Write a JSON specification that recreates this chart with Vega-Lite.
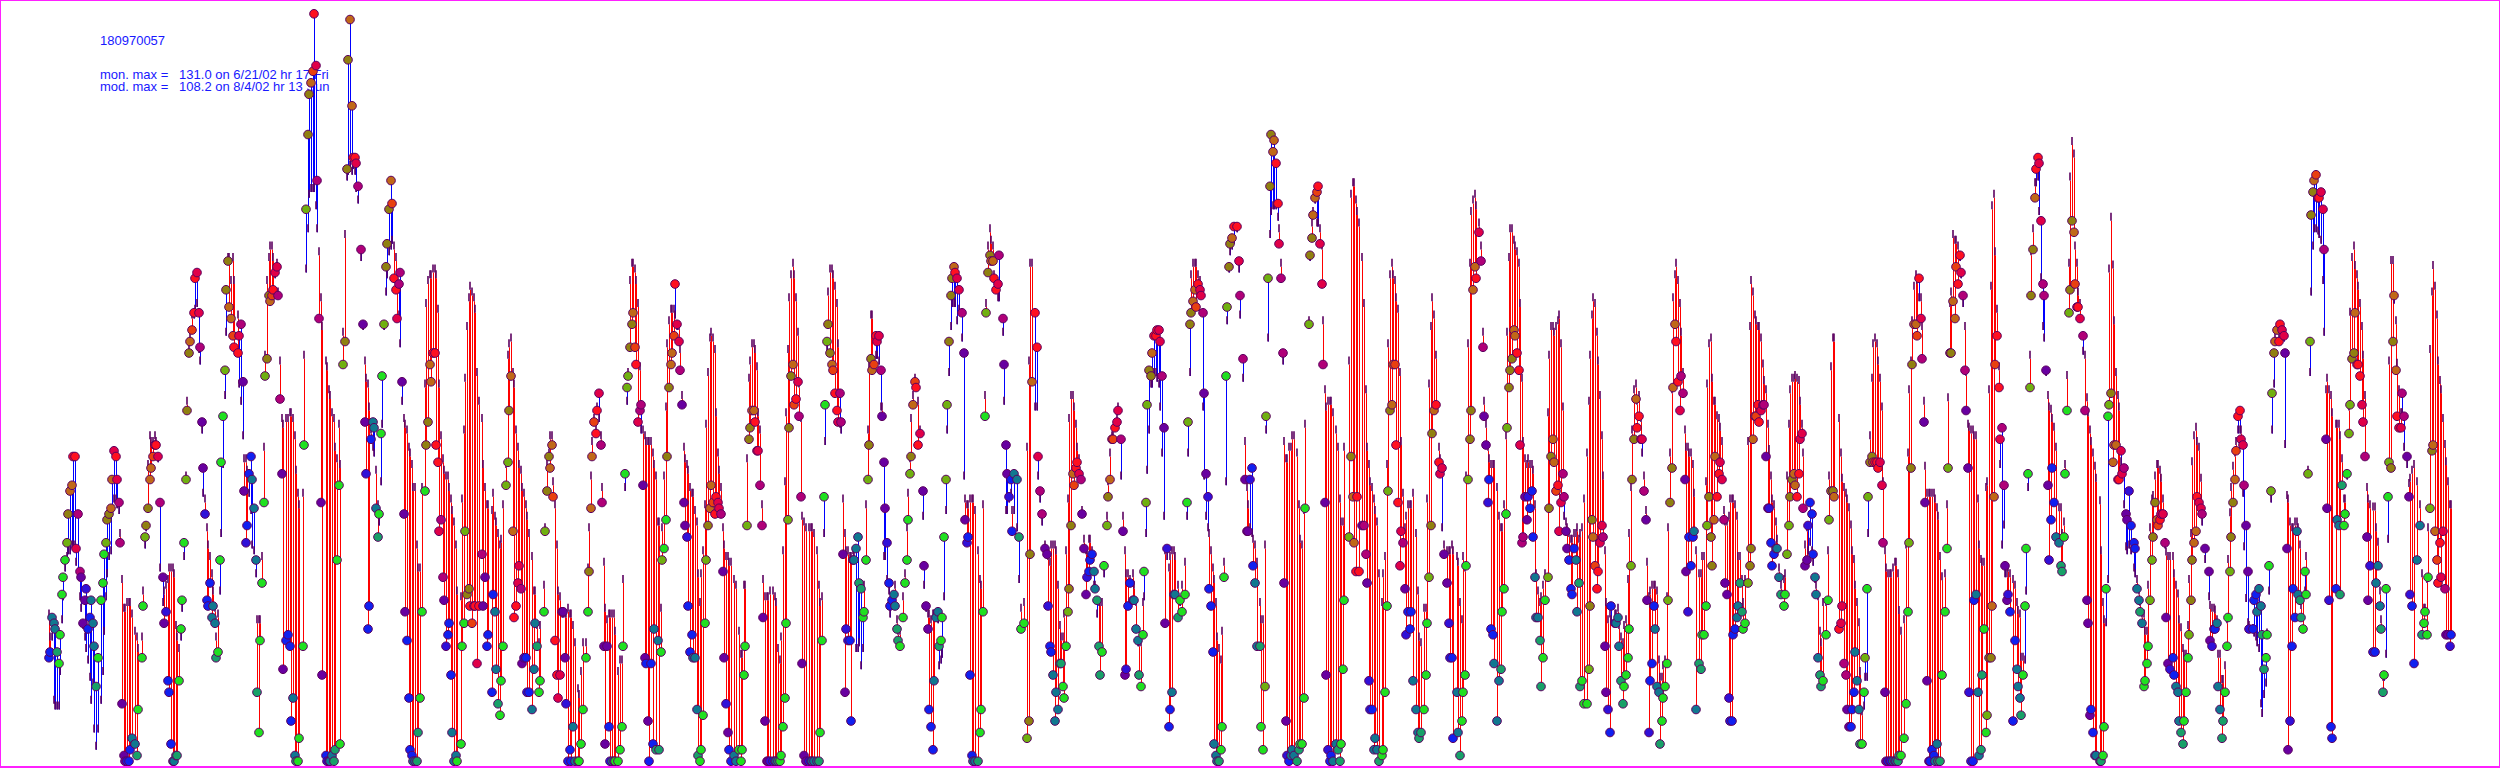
{"$schema":"https://vega.github.io/schema/vega-lite/v6.json","autosize":{"type":"fit","contains":"padding"},"padding":0,"width":2500,"height":768,"background":"white","view":{"stroke":"#ff20ff","strokeWidth":2,"fill":"white"},
"datasets":{"notes":[{"h":61.4,"v":126.3,"t":"180970057"},{"h":61.4,"v":120.3,"t":"mon. max =\u00a0\u00a0\u00a0131.0 on 6/21/02 hr 17 Fri"},{"h":61.4,"v":118.2,"t":"mod. max =\u00a0\u00a0\u00a0108.2 on 8/4/02 hr 13 Sun"}],
"hours":[
{"h":30,"o":19,"m":26,"c":"b"},{"h":31,"o":20,"m":22,"c":"b"},{"h":32,"o":26,"m":22,"c":"t"},{"h":33,"o":25,"m":11,"c":"t"},{"h":34,"o":24,"m":10,"c":"t"},{"h":35,"o":20,"m":10,"c":"e"},{"h":36,"o":18,"m":10,"c":"g"},{"h":37,"o":23,"m":16,"c":"g"},{"h":38,"o":30,"m":25,"c":"g"},{"h":39,"o":33,"m":29,"c":"g"},{"h":40,"o":36,"m":34,"c":"g"},{"h":41,"o":39,"m":36,"c":"l"},{"h":42,"o":44,"m":37,"c":"y"},{"h":43,"o":48,"m":37,"c":"o"},{"h":44,"o":49,"m":38,"c":"o"},{"h":45,"o":54,"m":38,"c":"r"},{"h":46,"o":54,"m":38,"c":"r"},{"h":47,"o":38,"m":35,"c":"c"},{"h":48,"o":44,"m":33,"c":"m"},{"h":49,"o":34,"m":29,"c":"m"},{"h":50,"o":33,"m":27,"c":"p"},{"h":51,"o":25,"m":24,"c":"p"},{"h":52,"o":29,"m":22,"c":"p"},{"h":53,"o":31,"m":20,"c":"v"},{"h":54,"o":24,"m":18,"c":"b"},{"h":55,"o":26,"m":15,"c":"b"},{"h":56,"o":29,"m":11,"c":"t"},{"h":57,"o":25,"m":14,"c":"t"},{"h":58,"o":21,"m":6,"c":"t"},{"h":59,"o":14,"m":3,"c":"e"},{"h":60,"o":19,"m":6,"c":"g"},{"h":62,"o":29,"m":11,"c":"g"},{"h":63,"o":32,"m":16,"c":"g"},{"h":64,"o":37,"m":23,"c":"g"},{"h":65,"o":39,"m":29,"c":"l"},{"h":66,"o":43,"m":33,"c":"y"},{"h":67,"o":44,"m":36,"c":"y"},{"h":68,"o":45,"m":37,"c":"o"},{"h":69,"o":50,"m":44,"c":"o"},{"h":70,"o":55,"m":46,"c":"c"},{"h":71,"o":54,"m":46,"c":"r"},{"h":72,"o":50,"m":45,"c":"c"},{"h":73,"o":46,"m":44,"c":"m"},{"h":74,"o":39,"m":40,"c":"m"},
{"h":75,"o":11,"m":32,"c":"p"},{"h":76,"o":2,"m":27,"c":"p"},{"h":77,"o":1,"m":27,"c":"p"},{"h":78,"o":1,"m":28,"c":"b"},{"h":79,"o":1,"m":28,"c":"b"},{"h":80,"o":3,"m":28,"c":"b"},{"h":81,"o":5,"m":26,"c":"t"},{"h":83,"o":4,"m":23,"c":"t"},{"h":84,"o":2,"m":22,"c":"e"},{"h":85,"o":10,"m":20,"c":"g"},{"h":87,"o":19,"m":22,"c":"g"},{"h":88,"o":28,"m":30,"c":"g"},{"h":89,"o":40,"m":38,"c":"l"},{"h":90,"o":42,"m":41,"c":"y"},{"h":91,"o":45,"m":52,"c":"y"},{"h":92,"o":50,"m":57,"c":"o"},{"h":93,"o":52,"m":56,"c":"o"},{"h":94,"o":54,"m":56,"c":"a"},{"h":95,"o":56,"m":57,"c":"r"},{"h":96,"o":56,"m":56,"c":"r"},{"h":97,"o":54,"m":53,"c":"c"},{"h":98,"o":46,"m":34,"c":"m"},{"h":100,"o":33,"m":28,"c":"p"},{"h":101,"o":25,"m":30,"c":"p"},{"h":102,"o":27,"m":31,"c":"v"},{"h":103,"o":15,"m":32,"c":"b"},{"h":104,"o":13,"m":34,"c":"b"},{"h":105,"o":4,"m":34,"c":"b"},{"h":106,"o":1,"m":34,"c":"t"},{"h":107,"o":1,"m":33,"c":"t"},{"h":108,"o":2,"m":24,"c":"e"},{"h":109,"o":2,"m":22,"c":"e"},{"h":110,"o":15,"m":20,"c":"g"},{"h":111,"o":24,"m":22,"c":"g"},{"h":112,"o":29,"m":27,"c":"g"},{"h":113,"o":39,"m":36,"c":"g"},{"h":114,"o":50,"m":50,"c":"l"},{"h":115,"o":62,"m":63,"c":"y"},{"h":116,"o":72,"m":72,"c":"y"},{"h":117,"o":74,"m":74,"c":"o"},{"h":118,"o":76,"m":78,"c":"a"},{"h":119,"o":79,"m":78,"c":"r"},{"h":120,"o":85,"m":79,"c":"r"},{"h":121,"o":86,"m":80,"c":"c"},{"h":122,"o":79,"m":72,"c":"c"},{"h":123,"o":73,"m":70,"c":"m"},{"h":124,"o":60,"m":58,"c":"p"},{"h":125,"o":52,"m":47,"c":"p"},{"h":126,"o":44,"m":46,"c":"v"},{"h":127,"o":29,"m":41,"c":"b"},{"h":128,"o":28,"m":38,"c":"b"},{"h":129,"o":32,"m":36,"c":"b"},{"h":130,"o":26,"m":33,"c":"t"},{"h":131,"o":28,"m":30,"c":"t"},{"h":132,"o":25,"m":27,"c":"t"},{"h":133,"o":19,"m":22,"c":"e"},{"h":134,"o":20,"m":26,"c":"g"},{"h":135,"o":36,"m":30,"c":"g"},{"h":136,"o":53,"m":40,"c":"g"},{"h":137,"o":61,"m":52,"c":"g"},{"h":138,"o":69,"m":64,"c":"l"},{"h":139,"o":83,"m":75,"c":"y"},{"h":140,"o":88,"m":88,"c":"y"},{"h":141,"o":80,"m":88,"c":"o"},{"h":142,"o":78,"m":84,"c":"o"},{"h":143,"o":75,"m":88,"c":"a"},{"h":144,"o":73,"m":84,"c":"r"},{"h":146,"o":72,"m":78,"c":"r"},{"h":147,"o":75,"m":66,"c":"c"},{"h":148,"o":77,"m":63,"c":"m"},{"h":149,"o":67,"m":57,"c":"p"},{"h":150,"o":48,"m":53,"c":"p"},{"h":151,"o":39,"m":53,"c":"v"},{"h":152,"o":42,"m":51,"c":"b"},{"h":153,"o":51,"m":47,"c":"b"},{"h":154,"o":54,"m":44,"c":"b"},{"h":155,"o":50,"m":38,"c":"t"},{"h":156,"o":45,"m":37,"c":"t"},{"h":157,"o":36,"m":33,"c":"t"},{"h":158,"o":13,"m":25,"c":"e"},{"h":159,"o":6,"m":25,"c":"g"},{"h":160,"o":22,"m":25,"c":"g"},{"h":161,"o":32,"m":36,"c":"g"},{"h":162,"o":46,"m":55,"c":"g"},{"h":163,"o":68,"m":71,"c":"l"},{"h":164,"o":71,"m":84,"c":"y"},{"h":165,"o":82,"m":88,"c":"y"},{"h":166,"o":81,"m":90,"c":"o"},{"h":167,"o":82,"m":90,"c":"a"},{"h":168,"o":83,"m":88,"c":"r"},{"h":169,"o":86,"m":85,"c":"c"},{"h":170,"o":87,"m":87,"c":"c"},{"h":171,"o":82,"m":82,"c":"m"},{"h":172,"o":64,"m":70,"c":"m"},{"h":173,"o":51,"m":60,"c":"p"},{"h":174,"o":17,"m":59,"c":"p"},{"h":176,"o":22,"m":60,"c":"b"},{"h":177,"o":23,"m":60,"c":"b"},{"h":178,"o":21,"m":61,"c":"b"},{"h":179,"o":8,"m":61,"c":"b"},{"h":180,"o":12,"m":60,"c":"t"},{"h":181,"o":2,"m":57,"c":"t"},{"h":182,"o":1,"m":51,"c":"e"},{"h":183,"o":1,"m":47,"c":"g"},{"h":184,"o":5,"m":45,"c":"g"},{"h":186,"o":21,"m":47,"c":"g"},{"h":187,"o":56,"m":71,"c":"g"},{"h":188,"o":97,"m":86,"c":"l"},{"h":189,"o":110,"m":93,"c":"y"},{"h":190,"o":117,"m":99,"c":"y"},{"h":191,"o":119,"m":100,"c":"o"},{"h":192,"o":121,"m":100,"c":"a"},{"h":193,"o":131,"m":100,"c":"r"},{"h":194,"o":122,"m":97,"c":"c"},{"h":195,"o":102,"m":93,"c":"m"},{"h":196,"o":78,"m":89,"c":"m"},{"h":197,"o":46,"m":81,"c":"p"},{"h":198,"o":16,"m":76,"c":"p"},{"h":200,"o":2,"m":70,"c":"b"},{"h":201,"o":1,"m":69,"c":"v"},{"h":202,"o":1,"m":65,"c":"b"},{"h":203,"o":1,"m":64,"c":"t"},{"h":204,"o":2,"m":61,"c":"t"},{"h":205,"o":1,"m":60,"c":"e"},{"h":206,"o":3,"m":55,"c":"e"},{"h":207,"o":36,"m":53,"c":"g"},{"h":208,"o":49,"m":59,"c":"g"},
{"h":209,"o":4,"m":52,"c":"g"},{"h":211,"o":70,"m":75,"c":"l"},{"h":212,"o":74,"m":92,"c":"y"},{"h":213,"o":104,"m":102,"c":"y"},{"h":214,"o":123,"m":103,"c":"y"},{"h":215,"o":130,"m":104,"c":"o"},{"h":216,"o":115,"m":103,"c":"o"},{"h":217,"o":106,"m":104,"c":"r"},{"h":218,"o":106,"m":103,"c":"r"},{"h":219,"o":105,"m":100,"c":"c"},{"h":220,"o":101,"m":98,"c":"m"},{"h":222,"o":90,"m":88,"c":"m"},{"h":223,"o":77,"m":76,"c":"p"},{"h":224,"o":60,"m":70,"c":"p"},{"h":225,"o":51,"m":67,"c":"v"},{"h":226,"o":24,"m":66,"c":"b"},{"h":227,"o":28,"m":62,"c":"b"},{"h":228,"o":57,"m":58,"c":"b"},{"h":229,"o":60,"m":55,"c":"t"},{"h":230,"o":59,"m":54,"c":"t"},{"h":231,"o":45,"m":51,"c":"t"},{"h":232,"o":40,"m":45,"c":"e"},{"h":233,"o":44,"m":42,"c":"g"},{"h":234,"o":58,"m":49,"c":"g"},{"h":235,"o":68,"m":59,"c":"g"},{"h":236,"o":77,"m":76,"c":"l"},{"h":237,"o":87,"m":82,"c":"y"},{"h":238,"o":91,"m":85,"c":"y"},{"h":239,"o":97,"m":89,"c":"y"},{"h":240,"o":102,"m":90,"c":"o"},{"h":241,"o":98,"m":91,"c":"a"},{"h":242,"o":85,"m":90,"c":"r"},{"h":243,"o":83,"m":88,"c":"r"},{"h":244,"o":78,"m":83,"c":"c"},{"h":245,"o":84,"m":78,"c":"m"},{"h":246,"o":86,"m":73,"c":"m"},{"h":247,"o":67,"m":63,"c":"p"},{"h":248,"o":44,"m":60,"c":"p"},{"h":249,"o":27,"m":59,"c":"p"},{"h":250,"o":22,"m":58,"c":"b"},{"h":251,"o":12,"m":55,"c":"b"},{"h":252,"o":3,"m":54,"c":"b"},{"h":253,"o":2,"m":52,"c":"b"},{"h":254,"o":1,"m":48,"c":"t"},{"h":255,"o":1,"m":48,"c":"t"},{"h":256,"o":1,"m":38,"c":"e"},{"h":257,"o":6,"m":34,"c":"e"},{"h":258,"o":12,"m":34,"c":"g"},{"h":259,"o":27,"m":48,"c":"g"},{"h":261,"o":48,"m":66,"c":"g"},{"h":262,"o":56,"m":80,"c":"y"},{"h":263,"o":60,"m":84,"c":"y"},{"h":264,"o":70,"m":85,"c":"o"},{"h":265,"o":67,"m":85,"c":"o"},{"h":266,"o":72,"m":86,"c":"r"},{"h":267,"o":72,"m":86,"c":"r"},{"h":268,"o":56,"m":85,"c":"r"},{"h":269,"o":53,"m":79,"c":"r"},{"h":270,"o":41,"m":66,"c":"c"},{"h":271,"o":43,"m":57,"c":"m"},{"h":272,"o":33,"m":53,"c":"m"},{"h":273,"o":29,"m":51,"c":"p"},{"h":274,"o":21,"m":50,"c":"v"},{"h":275,"o":23,"m":50,"c":"b"},{"h":276,"o":25,"m":48,"c":"b"},{"h":277,"o":16,"m":46,"c":"b"},{"h":278,"o":6,"m":44,"c":"t"},{"h":279,"o":1,"m":42,"c":"t"},{"h":280,"o":2,"m":38,"c":"t"},{"h":281,"o":1,"m":30,"c":"g"},{"h":283,"o":4,"m":29,"c":"g"},{"h":284,"o":21,"m":46,"c":"g"},{"h":285,"o":25,"m":58,"c":"g"},{"h":286,"o":41,"m":67,"c":"l"},{"h":287,"o":30,"m":76,"c":"y"},{"h":288,"o":31,"m":81,"c":"y"},{"h":289,"o":28,"m":83,"c":"r"},{"h":290,"o":25,"m":82,"c":"a"},{"h":291,"o":28,"m":81,"c":"r"},{"h":292,"o":28,"m":79,"c":"r"},{"h":293,"o":18,"m":68,"c":"c"},{"h":294,"o":28,"m":63,"c":"r"},{"h":296,"o":37,"m":60,"c":"m"},{"h":297,"o":28,"m":52,"c":"p"},{"h":298,"o":33,"m":48,"c":"p"},{"h":299,"o":21,"m":45,"c":"b"},{"h":300,"o":23,"m":45,"c":"b"},{"h":302,"o":13,"m":44,"c":"b"},{"h":303,"o":30,"m":47,"c":"b"},{"h":304,"o":27,"m":43,"c":"t"},{"h":305,"o":17,"m":42,"c":"t"},{"h":306,"o":11,"m":40,"c":"e"},{"h":307,"o":9,"m":38,"c":"g"},{"h":308,"o":15,"m":39,"c":"g"},{"h":309,"o":21,"m":45,"c":"g"},{"h":311,"o":49,"m":52,"c":"l"},{"h":312,"o":53,"m":71,"c":"l"},{"h":313,"o":62,"m":73,"c":"y"},{"h":314,"o":68,"m":74,"c":"o"},{"h":315,"o":41,"m":68,"c":"o"},{"h":316,"o":26,"m":66,"c":"r"},{"h":317,"o":28,"m":58,"c":"r"},{"h":318,"o":32,"m":55,"c":"c"},{"h":319,"o":35,"m":52,"c":"c"},{"h":320,"o":31,"m":51,"c":"m"},{"h":321,"o":18,"m":48,"c":"p"},{"h":322,"o":19,"m":47,"c":"v"},{"h":323,"o":19,"m":45,"c":"b"},{"h":324,"o":13,"m":43,"c":"b"},{"h":325,"o":13,"m":40,"c":"b"},{"h":327,"o":10,"m":36,"c":"t"},{"h":328,"o":17,"m":30,"c":"t"},{"h":329,"o":25,"m":30,"c":"t"},{"h":330,"o":21,"m":24,"c":"e"},{"h":331,"o":13,"m":21,"c":"g"},{"h":332,"o":15,"m":24,"c":"g"},{"h":334,"o":27,"m":31,"c":"g"},{"h":335,"o":41,"m":41,"c":"l"},{"h":336,"o":48,"m":52,"c":"y"},{"h":337,"o":54,"m":54,"c":"y"},{"h":338,"o":52,"m":57,"c":"o"},{"h":339,"o":56,"m":57,"c":"o"},{"h":340,"o":47,"m":49,"c":"a"},{"h":341,"o":22,"m":45,"c":"r"},{"h":342,"o":16,"m":38,"c":"r"},{"h":343,"o":12,"m":30,"c":"c"},{"h":344,"o":16,"m":29,"c":"c"},{"h":345,"o":27,"m":26,"c":"m"},{"h":346,"o":27,"m":26,"c":"p"},{"h":347,"o":19,"m":26,"c":"p"},{"h":348,"o":11,"m":26,"c":"v"},{"h":349,"o":1,"m":27,"c":"b"},{"h":350,"o":3,"m":26,"c":"b"},{"h":351,"o":1,"m":26,"c":"b"},{"h":352,"o":7,"m":24,"c":"t"},{"h":353,"o":1,"m":21,"c":"t"},{"h":355,"o":1,"m":13,"c":"g"},{"h":356,"o":1,"m":12,"c":"g"},{"h":357,"o":4,"m":16,"c":"g"},{"h":358,"o":10,"m":21,"c":"g"},{"h":360,"o":19,"m":21,"c":"g"},{"h":361,"o":27,"m":34,"c":"g"},{"h":362,"o":34,"m":41,"c":"y"},{"h":363,"o":45,"m":50,"c":"o"},{"h":364,"o":54,"m":56,"c":"o"},{"h":365,"o":60,"m":60,"c":"a"},{"h":366,"o":58,"m":58,"c":"r"},{"h":367,"o":62,"m":62,"c":"r"},{"h":368,"o":65,"m":60,"c":"c"},{"h":369,"o":56,"m":57,"c":"m"},{"h":370,"o":46,"m":48,"c":"m"},{"h":371,"o":21,"m":35,"c":"p"},{"h":372,"o":4,"m":27,"c":"p"},{"h":373,"o":21,"m":25,"c":"p"},{"h":374,"o":7,"m":26,"c":"b"},{"h":375,"o":1,"m":26,"c":"b"},{"h":376,"o":1,"m":26,"c":"t"},{"h":377,"o":1,"m":26,"c":"t"},{"h":378,"o":1,"m":23,"c":"g"},{"h":380,"o":1,"m":16,"c":"g"},{"h":381,"o":3,"m":18,"c":"g"},{"h":382,"o":7,"m":18,"c":"g"},{"h":383,"o":21,"m":32,"c":"g"},{"h":384,"o":51,"m":48,"c":"g"},{"h":385,"o":66,"m":63,"c":"l"},{"h":386,"o":68,"m":68,"c":"l"},{"h":387,"o":73,"m":84,"c":"y"},{"h":388,"o":77,"m":87,"c":"y"},{"h":389,"o":79,"m":87,"c":"o"},{"h":390,"o":73,"m":86,"c":"a"},{"h":391,"o":70,"m":84,"c":"r"},{"h":392,"o":60,"m":80,"c":"c"},{"h":393,"o":62,"m":69,"c":"m"},{"h":394,"o":63,"m":58,"c":"m"},{"h":395,"o":49,"m":58,"c":"p"},{"h":396,"o":19,"m":57,"c":"p"},{"h":397,"o":18,"m":56,"c":"b"},{"h":398,"o":8,"m":56,"c":"p"},{"h":399,"o":1,"m":56,"c":"b"},
{"h":400,"o":18,"m":56,"c":"b"},{"h":401,"o":4,"m":54,"c":"b"},{"h":402,"o":24,"m":52,"c":"t"},{"h":403,"o":3,"m":50,"c":"e"},{"h":404,"o":22,"m":42,"c":"t"},{"h":405,"o":3,"m":42,"c":"e"},{"h":406,"o":20,"m":27,"c":"g"},{"h":407,"o":36,"m":41,"c":"l"},{"h":408,"o":38,"m":50,"c":"g"},{"h":409,"o":43,"m":62,"c":"g"},{"h":410,"o":54,"m":73,"c":"y"},{"h":411,"o":66,"m":77,"c":"y"},{"h":412,"o":70,"m":79,"c":"o"},{"h":413,"o":72,"m":79,"c":"o"},{"h":414,"o":75,"m":79,"c":"a"},{"h":415,"o":84,"m":78,"c":"r"},{"h":416,"o":77,"m":76,"c":"c"},{"h":417,"o":74,"m":76,"c":"c"},{"h":418,"o":69,"m":72,"c":"m"},{"h":419,"o":63,"m":64,"c":"p"},{"h":420,"o":46,"m":55,"c":"p"},{"h":421,"o":42,"m":53,"c":"p"},{"h":422,"o":40,"m":52,"c":"v"},{"h":423,"o":28,"m":51,"c":"b"},{"h":424,"o":20,"m":48,"c":"b"},{"h":425,"o":23,"m":47,"c":"b"},{"h":426,"o":19,"m":47,"c":"t"},{"h":427,"o":19,"m":44,"c":"t"},{"h":428,"o":10,"m":42,"c":"t"},{"h":429,"o":2,"m":33,"c":"e"},{"h":430,"o":1,"m":28,"c":"g"},{"h":431,"o":3,"m":33,"c":"g"},{"h":432,"o":9,"m":37,"c":"g"},{"h":433,"o":25,"m":45,"c":"g"},{"h":434,"o":36,"m":59,"c":"l"},{"h":435,"o":42,"m":68,"c":"y"},{"h":436,"o":45,"m":74,"c":"o"},{"h":437,"o":49,"m":75,"c":"o"},{"h":438,"o":46,"m":74,"c":"a"},{"h":439,"o":44,"m":72,"c":"r"},{"h":440,"o":47,"m":61,"c":"r"},{"h":441,"o":46,"m":54,"c":"c"},{"h":442,"o":45,"m":51,"c":"c"},{"h":443,"o":44,"m":48,"c":"m"},{"h":444,"o":34,"m":41,"c":"p"},{"h":445,"o":19,"m":38,"c":"p"},{"h":446,"o":11,"m":36,"c":"v"},{"h":447,"o":6,"m":36,"c":"p"},{"h":448,"o":3,"m":35,"c":"b"},{"h":449,"o":1,"m":35,"c":"b"},{"h":451,"o":2,"m":32,"c":"t"},{"h":452,"o":1,"m":31,"c":"t"},{"h":454,"o":3,"m":23,"c":"g"},{"h":455,"o":1,"m":19,"c":"g"},{"h":456,"o":3,"m":19,"c":"g"},{"h":457,"o":16,"m":31,"c":"g"},{"h":458,"o":21,"m":31,"c":"g"},{"h":459,"o":42,"m":53,"c":"l"},{"h":460,"o":57,"m":67,"c":"y"},{"h":461,"o":59,"m":70,"c":"y"},{"h":462,"o":62,"m":73,"c":"o"},{"h":463,"o":62,"m":73,"c":"o"},{"h":464,"o":60,"m":72,"c":"r"},{"h":465,"o":55,"m":69,"c":"r"},{"h":466,"o":55,"m":61,"c":"c"},{"h":467,"o":49,"m":58,"c":"m"},{"h":468,"o":42,"m":45,"c":"m"},{"h":469,"o":26,"m":32,"c":"p"},{"h":470,"o":8,"m":29,"c":"p"},{"h":471,"o":1,"m":29,"c":"p"},{"h":472,"o":1,"m":29,"c":"p"},{"h":473,"o":1,"m":30,"c":"v"},{"h":475,"o":1,"m":30,"c":"b"},{"h":476,"o":1,"m":29,"c":"t"},{"h":477,"o":1,"m":28,"c":"t"},{"h":478,"o":1,"m":20,"c":"e"},{"h":479,"o":1,"m":18,"c":"g"},{"h":480,"o":2,"m":22,"c":"g"},{"h":481,"o":7,"m":37,"c":"g"},{"h":482,"o":12,"m":49,"c":"g"},{"h":483,"o":25,"m":61,"c":"g"},{"h":484,"o":43,"m":72,"c":"l"},{"h":485,"o":59,"m":81,"c":"y"},{"h":486,"o":68,"m":85,"c":"y"},{"h":487,"o":70,"m":87,"c":"o"},{"h":488,"o":63,"m":85,"c":"a"},{"h":489,"o":64,"m":81,"c":"r"},{"h":490,"o":67,"m":75,"c":"c"},{"h":491,"o":61,"m":66,"c":"m"},{"h":492,"o":47,"m":60,"c":"m"},{"h":493,"o":18,"m":43,"c":"p"},{"h":494,"o":2,"m":42,"c":"p"},{"h":495,"o":1,"m":41,"c":"p"},{"h":497,"o":1,"m":41,"c":"b"},{"h":498,"o":1,"m":41,"c":"b"},{"h":499,"o":1,"m":41,"c":"t"},{"h":500,"o":1,"m":40,"c":"t"},{"h":502,"o":1,"m":37,"c":"t"},{"h":503,"o":1,"m":31,"c":"e"},{"h":504,"o":6,"m":28,"c":"g"},{"h":505,"o":22,"m":29,"c":"g"},{"h":506,"o":47,"m":40,"c":"g"},{"h":507,"o":63,"m":56,"c":"g"},{"h":508,"o":74,"m":72,"c":"l"},{"h":509,"o":77,"m":82,"c":"y"},{"h":510,"o":72,"m":86,"c":"y"},{"h":511,"o":70,"m":86,"c":"o"},{"h":512,"o":69,"m":85,"c":"a"},{"h":513,"o":65,"m":83,"c":"r"},{"h":514,"o":62,"m":80,"c":"r"},{"h":515,"o":60,"m":73,"c":"c"},{"h":516,"o":65,"m":59,"c":"m"},{"h":517,"o":60,"m":58,"c":"m"},{"h":518,"o":37,"m":46,"c":"p"},{"h":519,"o":13,"m":40,"c":"p"},{"h":520,"o":24,"m":37,"c":"v"},{"h":521,"o":22,"m":37,"c":"b"},{"h":522,"o":22,"m":36,"c":"b"},{"h":523,"o":8,"m":36,"c":"b"},{"h":524,"o":36,"m":37,"c":"t"},{"h":525,"o":36,"m":36,"c":"t"},{"h":526,"o":38,"m":20,"c":"t"},{"h":527,"o":40,"m":20,"c":"t"},{"h":528,"o":32,"m":21,"c":"e"},{"h":529,"o":31,"m":17,"c":"e"},{"h":530,"o":26,"m":20,"c":"g"},{"h":531,"o":27,"m":31,"c":"g"},{"h":532,"o":36,"m":45,"c":"g"},{"h":533,"o":50,"m":58,"c":"l"},{"h":534,"o":56,"m":69,"c":"y"},{"h":535,"o":71,"m":78,"c":"y"},{"h":536,"o":69,"m":78,"c":"o"},{"h":537,"o":70,"m":70,"c":"a"},{"h":538,"o":75,"m":71,"c":"r"},{"h":539,"o":74,"m":71,"c":"c"},{"h":540,"o":75,"m":70,"c":"c"},{"h":541,"o":69,"m":62,"c":"m"},{"h":542,"o":61,"m":62,"c":"p"},{"h":543,"o":53,"m":36,"c":"p"},{"h":544,"o":45,"m":36,"c":"p"},{"h":545,"o":39,"m":32,"c":"v"},{"h":546,"o":32,"m":30,"c":"b"},{"h":547,"o":28,"m":26,"c":"b"},{"h":548,"o":29,"m":28,"c":"b"},{"h":549,"o":30,"m":29,"c":"t"},{"h":550,"o":28,"m":31,"c":"t"},{"h":551,"o":24,"m":25,"c":"e"},{"h":552,"o":22,"m":23,"c":"e"},{"h":553,"o":21,"m":23,"c":"g"},{"h":555,"o":26,"m":29,"c":"g"},{"h":556,"o":32,"m":33,"c":"g"},{"h":557,"o":36,"m":41,"c":"g"},{"h":558,"o":43,"m":47,"c":"g"},{"h":559,"o":51,"m":53,"c":"l"},{"h":560,"o":54,"m":60,"c":"y"},{"h":561,"o":63,"m":64,"c":"o"},{"h":562,"o":67,"m":67,"c":"a"},{"h":563,"o":66,"m":66,"c":"r"},{"h":564,"o":56,"m":63,"c":"r"},{"h":565,"o":58,"m":58,"c":"c"},{"h":567,"o":48,"m":43,"c":"p"},{"h":568,"o":35,"m":31,"c":"p"},{"h":569,"o":28,"m":27,"c":"p"},{"h":570,"o":24,"m":26,"c":"p"},{"h":571,"o":10,"m":26,"c":"b"},{"h":572,"o":7,"m":25,"c":"b"},{"h":573,"o":3,"m":26,"c":"b"},{"h":574,"o":15,"m":26,"c":"t"},{"h":575,"o":26,"m":26,"c":"t"},{"h":576,"o":27,"m":25,"c":"t"},{"h":577,"o":21,"m":17,"c":"e"},{"h":578,"o":22,"m":18,"c":"g"},{"h":579,"o":26,"m":19,"c":"g"},{"h":580,"o":40,"m":29,"c":"g"},{"h":581,"o":50,"m":44,"c":"l"},{"h":582,"o":63,"m":58,"c":"l"},{"h":583,"o":74,"m":68,"c":"y"},{"h":584,"o":82,"m":76,"c":"y"},{"h":585,"o":85,"m":80,"c":"y"},{"h":586,"o":87,"m":80,"c":"o"},{"h":587,"o":86,"m":80,"c":"r"},{"h":588,"o":85,"m":77,"c":"c"},{"h":589,"o":83,"m":79,"c":"c"},
{"h":591,"o":79,"m":74,"c":"m"},{"h":592,"o":72,"m":50,"c":"p"},{"h":593,"o":43,"m":46,"c":"p"},{"h":594,"o":39,"m":45,"c":"v"},{"h":595,"o":40,"m":45,"c":"b"},{"h":596,"o":16,"m":46,"c":"b"},{"h":597,"o":2,"m":46,"c":"b"},{"h":598,"o":1,"m":46,"c":"t"},{"h":599,"o":1,"m":44,"c":"t"},{"h":601,"o":1,"m":37,"c":"e"},{"h":602,"o":6,"m":32,"c":"g"},{"h":603,"o":10,"m":31,"c":"g"},{"h":604,"o":27,"m":45,"c":"g"},{"h":605,"o":61,"m":64,"c":"g"},{"h":606,"o":79,"m":80,"c":"l"},{"h":607,"o":86,"m":90,"c":"y"},{"h":608,"o":89,"m":93,"c":"y"},{"h":609,"o":88,"m":91,"c":"o"},{"h":610,"o":88,"m":90,"c":"o"},{"h":611,"o":85,"m":85,"c":"r"},{"h":612,"o":83,"m":83,"c":"r"},{"h":613,"o":84,"m":81,"c":"c"},{"h":614,"o":89,"m":81,"c":"m"},{"h":616,"o":78,"m":75,"c":"m"},{"h":617,"o":70,"m":63,"c":"p"},{"h":618,"o":56,"m":44,"c":"p"},{"h":619,"o":51,"m":44,"c":"p"},{"h":620,"o":47,"m":46,"c":"v"},{"h":621,"o":50,"m":47,"c":"b"},{"h":622,"o":41,"m":44,"c":"b"},{"h":623,"o":51,"m":44,"c":"t"},{"h":625,"o":50,"m":41,"c":"t"},{"h":626,"o":40,"m":32,"c":"e"},{"h":627,"o":24,"m":27,"c":"g"},{"h":629,"o":25,"m":28,"c":"g"},{"h":631,"o":5,"m":55,"c":"l"},{"h":632,"o":8,"m":70,"c":"y"},{"h":633,"o":37,"m":87,"c":"y"},{"h":634,"o":67,"m":87,"c":"o"},{"h":636,"o":79,"m":62,"c":"r"},{"h":637,"o":73,"m":62,"c":"r"},{"h":638,"o":54,"m":50,"c":"c"},{"h":639,"o":48,"m":46,"c":"m"},{"h":640,"o":44,"m":42,"c":"m"},{"h":642,"o":38,"m":38,"c":"p"},{"h":643,"o":37,"m":37,"c":"p"},{"h":644,"o":28,"m":36,"c":"v"},{"h":645,"o":21,"m":35,"c":"b"},{"h":646,"o":20,"m":38,"c":"b"},{"h":647,"o":16,"m":38,"c":"t"},{"h":648,"o":8,"m":38,"c":"t"},{"h":649,"o":13,"m":37,"c":"t"},{"h":650,"o":10,"m":31,"c":"t"},{"h":651,"o":18,"m":24,"c":"g"},{"h":652,"o":18,"m":22,"c":"e"},{"h":653,"o":14,"m":22,"c":"g"},{"h":654,"o":12,"m":26,"c":"g"},{"h":655,"o":21,"m":37,"c":"g"},{"h":656,"o":27,"m":46,"c":"l"},{"h":657,"o":31,"m":60,"c":"y"},{"h":658,"o":42,"m":64,"c":"y"},{"h":659,"o":51,"m":64,"c":"o"},{"h":660,"o":49,"m":62,"c":"a"},{"h":661,"o":52,"m":59,"c":"r"},{"h":662,"o":53,"m":55,"c":"r"},{"h":663,"o":51,"m":53,"c":"c"},{"h":664,"o":50,"m":50,"c":"m"},{"h":665,"o":44,"m":44,"c":"p"},{"h":666,"o":38,"m":39,"c":"p"},{"h":667,"o":30,"m":37,"c":"p"},{"h":668,"o":33,"m":37,"c":"v"},{"h":669,"o":34,"m":39,"c":"b"},{"h":670,"o":36,"m":39,"c":"b"},{"h":671,"o":37,"m":37,"c":"b"},{"h":672,"o":34,"m":31,"c":"t"},{"h":673,"o":31,"m":31,"c":"t"},{"h":674,"o":29,"m":26,"c":"e"},{"h":675,"o":21,"m":28,"c":"e"},{"h":676,"o":16,"m":28,"c":"e"},{"h":677,"o":20,"m":28,"c":"g"},{"h":678,"o":35,"m":33,"c":"g"},{"h":680,"o":42,"m":43,"c":"l"},{"h":681,"o":47,"m":49,"c":"y"},{"h":682,"o":50,"m":54,"c":"o"},{"h":683,"o":57,"m":57,"c":"a"},{"h":684,"o":57,"m":57,"c":"a"},{"h":685,"o":59,"m":59,"c":"r"},{"h":686,"o":60,"m":60,"c":"c"},{"h":687,"o":62,"m":62,"c":"c"},{"h":689,"o":57,"m":50,"c":"m"},{"h":690,"o":41,"m":43,"c":"p"},{"h":691,"o":16,"m":37,"c":"p"},{"h":692,"o":17,"m":33,"c":"v"},{"h":693,"o":28,"m":33,"c":"b"},{"h":694,"o":32,"m":32,"c":"b"},{"h":696,"o":29,"m":33,"c":"b"},{"h":697,"o":29,"m":31,"c":"t"},{"h":698,"o":24,"m":28,"c":"t"},{"h":699,"o":22,"m":21,"c":"t"},{"h":700,"o":16,"m":21,"c":"e"},{"h":701,"o":14,"m":21,"c":"g"},{"h":702,"o":23,"m":28,"c":"g"},{"h":703,"o":34,"m":29,"c":"g"},{"h":704,"o":46,"m":40,"c":"l"},{"h":705,"o":63,"m":51,"c":"l"},{"h":706,"o":69,"m":58,"c":"y"},{"h":707,"o":68,"m":66,"c":"y"},{"h":708,"o":72,"m":66,"c":"o"},{"h":709,"o":75,"m":68,"c":"r"},{"h":710,"o":75,"m":68,"c":"r"},{"h":711,"o":76,"m":67,"c":"r"},{"h":712,"o":76,"m":66,"c":"c"},{"h":713,"o":74,"m":62,"c":"c"},{"h":714,"o":68,"m":54,"c":"m"},{"h":715,"o":59,"m":43,"c":"p"},{"h":716,"o":25,"m":37,"c":"p"},{"h":717,"o":38,"m":36,"c":"v"},{"h":718,"o":7,"m":34,"c":"b"},{"h":719,"o":10,"m":36,"c":"b"},{"h":720,"o":13,"m":37,"c":"t"},{"h":721,"o":30,"m":37,"c":"t"},{"h":722,"o":30,"m":36,"c":"t"},{"h":724,"o":26,"m":31,"c":"e"},{"h":725,"o":29,"m":28,"c":"g"},{"h":726,"o":27,"m":31,"c":"g"},{"h":728,"o":30,"m":35,"c":"g"},{"h":729,"o":46,"m":43,"c":"g"},{"h":730,"o":60,"m":54,"c":"l"},{"h":731,"o":77,"m":68,"c":"y"},{"h":732,"o":79,"m":85,"c":"y"},{"h":733,"o":81,"m":87,"c":"o"},{"h":734,"o":83,"m":87,"c":"o"},{"h":735,"o":80,"m":87,"c":"a"},{"h":736,"o":84,"m":85,"c":"r"},{"h":737,"o":83,"m":84,"c":"c"},{"h":738,"o":82,"m":82,"c":"c"},{"h":739,"o":79,"m":62,"c":"m"},{"h":740,"o":65,"m":50,"c":"p"},{"h":741,"o":51,"m":43,"c":"p"},{"h":742,"o":47,"m":41,"c":"v"},{"h":743,"o":31,"m":40,"c":"b"},{"h":744,"o":28,"m":37,"c":"b"},{"h":745,"o":20,"m":34,"c":"b"},{"h":746,"o":4,"m":32,"c":"t"},{"h":747,"o":2,"m":28,"c":"t"},{"h":748,"o":1,"m":22,"c":"t"},{"h":749,"o":1,"m":20,"c":"e"},{"h":750,"o":3,"m":18,"c":"g"},{"h":751,"o":7,"m":23,"c":"g"},{"h":752,"o":33,"m":35,"c":"g"},{"h":753,"o":68,"m":49,"c":"g"},{"h":754,"o":80,"m":77,"c":"l"},{"h":755,"o":87,"m":86,"c":"y"},{"h":756,"o":91,"m":89,"c":"y"},{"h":757,"o":92,"m":90,"c":"o"},{"h":758,"o":94,"m":91,"c":"r"},{"h":760,"o":94,"m":93,"c":"r"},{"h":761,"o":88,"m":86,"c":"c"},{"h":762,"o":82,"m":78,"c":"m"},{"h":764,"o":71,"m":67,"c":"m"},{"h":765,"o":50,"m":56,"c":"p"},{"h":766,"o":41,"m":48,"c":"p"},{"h":767,"o":41,"m":45,"c":"p"},{"h":768,"o":50,"m":41,"c":"v"},{"h":769,"o":52,"m":40,"c":"b"},{"h":770,"o":35,"m":39,"c":"b"},{"h":771,"o":32,"m":38,"c":"t"},{"h":772,"o":21,"m":35,"c":"t"},{"h":774,"o":21,"m":28,"c":"e"},{"h":775,"o":7,"m":25,"c":"g"},{"h":776,"o":3,"m":25,"c":"g"},{"h":777,"o":14,"m":38,"c":"l"},{"h":778,"o":61,"m":58,"c":"l"},{"h":779,"o":85,"m":74,"c":"l"},{"h":780,"o":101,"m":92,"c":"y"},
{"h":781,"o":110,"m":96,"c":"y"},{"h":782,"o":107,"m":97,"c":"o"},{"h":783,"o":109,"m":97,"c":"o"},{"h":784,"o":105,"m":97,"c":"r"},{"h":785,"o":98,"m":95,"c":"r"},{"h":786,"o":91,"m":93,"c":"c"},{"h":787,"o":85,"m":87,"c":"m"},{"h":788,"o":72,"m":70,"c":"m"},{"h":789,"o":32,"m":56,"c":"p"},{"h":790,"o":8,"m":53,"c":"p"},{"h":791,"o":2,"m":53,"c":"v"},{"h":792,"o":1,"m":55,"c":"b"},{"h":793,"o":2,"m":55,"c":"t"},{"h":794,"o":3,"m":57,"c":"t"},{"h":795,"o":2,"m":57,"c":"t"},{"h":797,"o":1,"m":54,"c":"e"},{"h":798,"o":3,"m":45,"c":"e"},{"h":799,"o":4,"m":39,"c":"g"},{"h":800,"o":4,"m":38,"c":"g"},{"h":801,"o":12,"m":44,"c":"g"},{"h":802,"o":45,"m":59,"c":"g"},{"h":804,"o":77,"m":77,"c":"l"},{"h":805,"o":89,"m":88,"c":"y"},{"h":806,"o":92,"m":94,"c":"y"},{"h":807,"o":96,"m":96,"c":"o"},{"h":808,"o":99,"m":98,"c":"o"},{"h":809,"o":100,"m":94,"c":"a"},{"h":810,"o":101,"m":94,"c":"r"},{"h":811,"o":91,"m":93,"c":"c"},{"h":812,"o":84,"m":90,"c":"c"},{"h":813,"o":70,"m":77,"c":"m"},{"h":814,"o":46,"m":65,"c":"p"},{"h":815,"o":16,"m":62,"c":"p"},{"h":816,"o":3,"m":63,"c":"v"},{"h":817,"o":1,"m":63,"c":"b"},{"h":818,"o":2,"m":63,"c":"b"},{"h":819,"o":1,"m":61,"c":"t"},{"h":821,"o":4,"m":58,"c":"t"},{"h":822,"o":3,"m":55,"c":"e"},{"h":823,"o":1,"m":46,"c":"e"},{"h":824,"o":4,"m":42,"c":"g"},{"h":825,"o":17,"m":42,"c":"g"},{"h":826,"o":29,"m":55,"c":"g"},{"h":829,"o":40,"m":70,"c":"l"},{"h":830,"o":54,"m":99,"c":"y"},{"h":831,"o":47,"m":101,"c":"o"},{"h":832,"o":39,"m":101,"c":"o"},{"h":833,"o":34,"m":98,"c":"r"},{"h":834,"o":47,"m":96,"c":"r"},{"h":835,"o":34,"m":94,"c":"r"},{"h":837,"o":42,"m":88,"c":"p"},{"h":838,"o":42,"m":80,"c":"m"},{"h":839,"o":37,"m":65,"c":"m"},{"h":840,"o":32,"m":55,"c":"p"},{"h":841,"o":15,"m":52,"c":"v"},{"h":842,"o":10,"m":49,"c":"b"},{"h":843,"o":10,"m":48,"c":"b"},{"h":844,"o":3,"m":46,"c":"t"},{"h":845,"o":5,"m":44,"c":"t"},{"h":846,"o":3,"m":42,"c":"t"},{"h":847,"o":1,"m":33,"c":"e"},{"h":849,"o":2,"m":28,"c":"g"},{"h":850,"o":3,"m":33,"c":"g"},{"h":851,"o":13,"m":36,"c":"g"},{"h":852,"o":28,"m":52,"c":"g"},{"h":853,"o":48,"m":73,"c":"l"},{"h":854,"o":62,"m":85,"c":"y"},{"h":855,"o":63,"m":87,"c":"o"},{"h":856,"o":70,"m":85,"c":"o"},{"h":857,"o":70,"m":84,"c":"a"},{"h":858,"o":56,"m":81,"c":"r"},{"h":859,"o":46,"m":79,"c":"r"},{"h":860,"o":35,"m":68,"c":"c"},{"h":861,"o":41,"m":56,"c":"c"},{"h":862,"o":39,"m":47,"c":"m"},{"h":863,"o":31,"m":41,"c":"p"},{"h":864,"o":23,"m":43,"c":"v"},{"h":865,"o":27,"m":45,"c":"b"},{"h":866,"o":24,"m":45,"c":"b"},{"h":867,"o":27,"m":45,"c":"b"},{"h":868,"o":15,"m":47,"c":"t"},{"h":870,"o":10,"m":40,"c":"t"},{"h":871,"o":6,"m":30,"c":"t"},{"h":872,"o":5,"m":22,"c":"e"},{"h":873,"o":6,"m":21,"c":"e"},{"h":875,"o":10,"m":27,"c":"g"},{"h":876,"o":16,"m":27,"c":"g"},{"h":877,"o":25,"m":46,"c":"g"},{"h":878,"o":33,"m":66,"c":"l"},{"h":879,"o":42,"m":76,"c":"y"},{"h":880,"o":58,"m":81,"c":"y"},{"h":881,"o":62,"m":78,"c":"o"},{"h":882,"o":63,"m":71,"c":"r"},{"h":884,"o":53,"m":55,"c":"r"},{"h":885,"o":51,"m":53,"c":"c"},{"h":886,"o":52,"m":41,"c":"c"},{"h":887,"o":37,"m":38,"c":"p"},{"h":889,"o":32,"m":37,"c":"p"},{"h":890,"o":25,"m":37,"c":"v"},{"h":891,"o":19,"m":37,"c":"b"},{"h":892,"o":19,"m":38,"c":"b"},{"h":893,"o":5,"m":37,"c":"b"},{"h":895,"o":13,"m":36,"c":"t"},{"h":896,"o":6,"m":35,"c":"t"},{"h":897,"o":2,"m":28,"c":"e"},{"h":898,"o":8,"m":25,"c":"g"},{"h":899,"o":13,"m":36,"c":"g"},{"h":900,"o":16,"m":34,"c":"g"},{"h":901,"o":35,"m":50,"c":"g"},{"h":902,"o":50,"m":73,"c":"l"},{"h":903,"o":57,"m":87,"c":"y"},{"h":904,"o":62,"m":96,"c":"y"},{"h":905,"o":83,"m":98,"c":"o"},{"h":906,"o":87,"m":99,"c":"o"},{"h":907,"o":85,"m":97,"c":"r"},{"h":909,"o":93,"m":94,"c":"c"},{"h":910,"o":88,"m":90,"c":"m"},{"h":911,"o":73,"m":75,"c":"m"},{"h":912,"o":61,"m":63,"c":"p"},{"h":913,"o":56,"m":59,"c":"p"},{"h":914,"o":46,"m":55,"c":"v"},{"h":915,"o":50,"m":53,"c":"b"},{"h":916,"o":24,"m":52,"c":"b"},{"h":917,"o":23,"m":52,"c":"b"},{"h":918,"o":18,"m":52,"c":"t"},{"h":920,"o":8,"m":48,"c":"t"},{"h":921,"o":15,"m":43,"c":"t"},{"h":922,"o":17,"m":41,"c":"e"},{"h":923,"o":27,"m":41,"c":"g"},{"h":924,"o":31,"m":45,"c":"g"},{"h":925,"o":44,"m":57,"c":"g"},{"h":926,"o":59,"m":75,"c":"l"},{"h":927,"o":66,"m":88,"c":"y"},{"h":928,"o":69,"m":93,"c":"y"},{"h":929,"o":71,"m":93,"c":"y"},{"h":930,"o":76,"m":91,"c":"o"},{"h":931,"o":75,"m":90,"c":"o"},{"h":932,"o":72,"m":89,"c":"r"},{"h":933,"o":69,"m":87,"c":"r"},{"h":934,"o":56,"m":80,"c":"c"},{"h":935,"o":39,"m":67,"c":"m"},{"h":936,"o":40,"m":56,"c":"m"},{"h":937,"o":47,"m":53,"c":"p"},{"h":938,"o":43,"m":52,"c":"p"},{"h":939,"o":47,"m":53,"c":"v"},{"h":940,"o":45,"m":52,"c":"b"},{"h":941,"o":48,"m":52,"c":"b"},{"h":942,"o":40,"m":51,"c":"b"},{"h":943,"o":33,"m":45,"c":"t"},{"h":944,"o":26,"m":33,"c":"t"},{"h":945,"o":26,"m":30,"c":"t"},{"h":946,"o":22,"m":28,"c":"e"},{"h":947,"o":14,"m":29,"c":"e"},{"h":948,"o":19,"m":31,"c":"g"},{"h":949,"o":29,"m":33,"c":"g"},{"h":951,"o":33,"m":61,"c":"l"},{"h":952,"o":45,"m":71,"c":"y"},{"h":953,"o":54,"m":76,"c":"y"},{"h":954,"o":57,"m":76,"c":"o"},{"h":955,"o":53,"m":75,"c":"o"},{"h":956,"o":48,"m":76,"c":"a"},{"h":957,"o":49,"m":77,"c":"r"},{"h":958,"o":41,"m":78,"c":"c"},{"h":959,"o":46,"m":73,"c":"c"},{"h":960,"o":51,"m":62,"c":"m"},{"h":961,"o":47,"m":43,"c":"m"},{"h":962,"o":41,"m":42,"c":"p"},{"h":963,"o":38,"m":41,"c":"p"},{"h":964,"o":36,"m":40,"c":"b"},{"h":965,"o":31,"m":39,"c":"b"},{"h":966,"o":30,"m":39,"c":"b"},{"h":967,"o":38,"m":40,"c":"b"},{"h":968,"o":36,"m":40,"c":"t"},{"h":969,"o":27,"m":41,"c":"t"},{"h":970,"o":32,"m":39,"c":"e"},
{"h":971,"o":14,"m":40,"c":"e"},{"h":972,"o":15,"m":41,"c":"g"},{"h":973,"o":11,"m":46,"c":"g"},{"h":975,"o":11,"m":54,"c":"g"},{"h":976,"o":17,"m":63,"c":"l"},{"h":977,"o":28,"m":71,"c":"y"},{"h":978,"o":43,"m":78,"c":"y"},{"h":979,"o":40,"m":81,"c":"o"},{"h":980,"o":35,"m":80,"c":"a"},{"h":981,"o":31,"m":75,"c":"r"},{"h":982,"o":34,"m":70,"c":"r"},{"h":983,"o":39,"m":64,"c":"c"},{"h":984,"o":42,"m":57,"c":"c"},{"h":985,"o":40,"m":50,"c":"m"},{"h":986,"o":21,"m":37,"c":"p"},{"h":987,"o":13,"m":28,"c":"p"},{"h":988,"o":10,"m":25,"c":"v"},{"h":989,"o":6,"m":26,"c":"b"},{"h":990,"o":28,"m":25,"c":"b"},{"h":992,"o":25,"m":26,"c":"b"},{"h":993,"o":25,"m":26,"c":"t"},{"h":994,"o":26,"m":27,"c":"t"},{"h":995,"o":21,"m":24,"c":"t"},{"h":996,"o":15,"m":22,"c":"e"},{"h":997,"o":11,"m":21,"c":"e"},{"h":998,"o":14,"m":24,"c":"g"},{"h":999,"o":16,"m":25,"c":"g"},{"h":1000,"o":19,"m":32,"c":"g"},{"h":1001,"o":24,"m":40,"c":"g"},{"h":1002,"o":35,"m":48,"c":"l"},{"h":1003,"o":50,"m":58,"c":"y"},{"h":1004,"o":57,"m":65,"c":"y"},{"h":1005,"o":64,"m":66,"c":"o"},{"h":1006,"o":59,"m":63,"c":"r"},{"h":1007,"o":61,"m":64,"c":"r"},{"h":1008,"o":57,"m":60,"c":"c"},{"h":1009,"o":57,"m":54,"c":"c"},{"h":1010,"o":48,"m":50,"c":"m"},{"h":1011,"o":43,"m":44,"c":"p"},{"h":1012,"o":29,"m":35,"c":"p"},{"h":1013,"o":6,"m":29,"c":"v"},{"h":1014,"o":15,"m":30,"c":"b"},{"h":1015,"o":18,"m":31,"c":"b"},{"h":1016,"o":28,"m":31,"c":"b"},{"h":1017,"o":24,"m":31,"c":"t"},{"h":1018,"o":14,"m":30,"c":"t"},{"h":1019,"o":13,"m":18,"c":"t"},{"h":1020,"o":4,"m":15,"c":"e"},{"h":1021,"o":8,"m":15,"c":"g"},{"h":1022,"o":12,"m":17,"c":"g"},{"h":1023,"o":14,"m":18,"c":"g"},{"h":1024,"o":18,"m":29,"c":"g"},{"h":1025,"o":29,"m":41,"c":"l"},{"h":1026,"o":46,"m":54,"c":"y"},{"h":1027,"o":52,"m":65,"c":"y"},{"h":1028,"o":66,"m":81,"c":"o"},{"h":1029,"o":77,"m":85,"c":"o"},{"h":1030,"o":74,"m":87,"c":"r"},{"h":1031,"o":67,"m":84,"c":"r"},{"h":1032,"o":62,"m":80,"c":"c"},{"h":1033,"o":68,"m":75,"c":"m"},{"h":1034,"o":65,"m":68,"c":"m"},{"h":1035,"o":50,"m":58,"c":"p"},{"h":1036,"o":34,"m":55,"c":"p"},{"h":1037,"o":27,"m":55,"c":"v"},{"h":1038,"o":40,"m":54,"c":"b"},{"h":1039,"o":35,"m":54,"c":"b"},{"h":1040,"o":40,"m":52,"c":"b"},{"h":1041,"o":41,"m":47,"c":"t"},{"h":1042,"o":10,"m":37,"c":"t"},{"h":1044,"o":18,"m":33,"c":"e"},{"h":1045,"o":17,"m":33,"c":"e"},{"h":1046,"o":23,"m":36,"c":"g"},{"h":1047,"o":23,"m":36,"c":"g"},{"h":1048,"o":28,"m":49,"c":"g"},{"h":1049,"o":42,"m":66,"c":"l"},{"h":1050,"o":47,"m":73,"c":"y"},{"h":1051,"o":40,"m":74,"c":"y"},{"h":1052,"o":35,"m":67,"c":"y"},{"h":1053,"o":43,"m":63,"c":"o"},{"h":1054,"o":54,"m":63,"c":"o"},{"h":1055,"o":47,"m":60.5,"c":"r"},{"h":1056,"o":51,"m":60,"c":"r"},{"h":1057,"o":53,"m":58.5,"c":"c"},{"h":1058,"o":50,"m":56,"c":"c"},{"h":1059,"o":43,"m":44,"c":"m"},{"h":1060,"o":32,"m":42,"c":"p"},{"h":1061,"o":30,"m":42,"c":"p"},{"h":1062,"o":12,"m":43,"c":"v"},{"h":1063,"o":8,"m":46,"c":"b"},{"h":1064,"o":8,"m":46,"c":"b"},{"h":1065,"o":23,"m":46,"c":"b"},{"h":1066,"o":24,"m":45,"c":"b"},{"h":1067,"o":26,"m":43,"c":"t"},{"h":1068,"o":28,"m":36,"c":"t"},{"h":1069,"o":32,"m":36,"c":"e"},{"h":1070,"o":27,"m":32,"c":"e"},{"h":1071,"o":24,"m":28,"c":"g"},{"h":1072,"o":25,"m":32,"c":"g"},{"h":1074,"o":32,"m":56,"c":"l"},{"h":1075,"o":35,"m":76,"c":"y"},{"h":1076,"o":38,"m":84,"c":"y"},{"h":1077,"o":57,"m":82,"c":"o"},{"h":1078,"o":61,"m":78,"c":"o"},{"h":1079,"o":61,"m":77,"c":"a"},{"h":1080,"o":63,"m":76,"c":"r"},{"h":1081,"o":60,"m":76,"c":"r"},{"h":1082,"o":62,"m":74,"c":"c"},{"h":1083,"o":63,"m":69.5,"c":"m"},{"h":1084,"o":63,"m":66.6,"c":"m"},{"h":1085,"o":54,"m":65,"c":"p"},{"h":1086,"o":45,"m":59,"c":"p"},{"h":1087,"o":45,"m":54.6,"c":"v"},{"h":1088,"o":39,"m":50,"c":"b"},{"h":1089,"o":35,"m":46,"c":"b"},{"h":1090,"o":37,"m":45,"c":"b"},{"h":1091,"o":38,"m":42,"c":"t"},{"h":1092,"o":38,"m":39,"c":"t"},{"h":1093,"o":33,"m":34,"c":"t"},{"h":1094,"o":30,"m":31,"c":"e"},{"h":1096,"o":28,"m":32,"c":"g"},{"h":1097,"o":30,"m":33,"c":"g"},{"h":1098,"o":37,"m":50,"c":"l"},{"h":1099,"o":42,"m":59,"c":"l"},{"h":1100,"o":47,"m":65,"c":"y"},{"h":1101,"o":50,"m":67,"c":"y"},{"h":1102,"o":51,"m":67,"c":"o"},{"h":1103,"o":49,"m":67.5,"c":"o"},{"h":1104,"o":47,"m":67,"c":"r"},{"h":1105,"o":51,"m":66.6,"c":"r"},{"h":1106,"o":57,"m":63,"c":"c"},{"h":1107,"o":58,"m":59,"c":"c"},{"h":1108,"o":45,"m":54,"c":"m"},{"h":1109,"o":35,"m":38,"c":"p"},{"h":1110,"o":36,"m":41,"c":"p"},{"h":1111,"o":42,"m":37,"c":"v"},{"h":1112,"o":46,"m":38.5,"c":"b"},{"h":1113,"o":44,"m":37,"c":"b"},{"h":1114,"o":37,"m":35,"c":"b"},{"h":1115,"o":33,"m":32,"c":"t"},{"h":1116,"o":30,"m":31,"c":"t"},{"h":1117,"o":19,"m":29,"c":"t"},{"h":1118,"o":16,"m":23,"c":"e"},{"h":1119,"o":14,"m":21,"c":"e"},{"h":1120,"o":15,"m":28,"c":"g"},{"h":1122,"o":23,"m":28,"c":"g"},{"h":1123,"o":29,"m":37,"c":"g"},{"h":1124,"o":43,"m":50,"c":"l"},{"h":1125,"o":48,"m":69,"c":"y"},{"h":1126,"o":48,"m":74,"c":"y"},{"h":1127,"o":47,"m":74,"c":"o"},{"h":1130,"o":24,"m":60,"c":"r"},{"h":1131,"o":25,"m":54,"c":"c"},{"h":1132,"o":28,"m":49.6,"c":"c"},{"h":1133,"o":18,"m":48,"c":"m"},{"h":1134,"o":16,"m":47,"c":"m"},{"h":1135,"o":10,"m":46,"c":"p"},{"h":1136,"o":7,"m":44.5,"c":"p"},{"h":1137,"o":7,"m":41.5,"c":"b"},{"h":1138,"o":10,"m":37,"c":"b"},{"h":1139,"o":13,"m":35.5,"c":"b"},{"h":1140,"o":20,"m":31,"c":"t"},{"h":1141,"o":15,"m":28,"c":"t"},{"h":1142,"o":10,"m":24.5,"c":"t"},{"h":1143,"o":4,"m":16,"c":"e"},{"h":1144,"o":4,"m":9,"c":"g"},{"h":1145,"o":13,"m":10,"c":"g"},{"h":1146,"o":19,"m":15,"c":"l"},{"h":1147,"o":31,"m":15,"c":"g"},{"h":1148,"o":47,"m":40,"c":"l"},{"h":1149,"o":53,"m":57,"c":"y"},{"h":1150,"o":54,"m":67,"c":"y"},{"h":1151,"o":53,"m":73,"c":"o"},{"h":1152,"o":53,"m":74,"c":"r"},{"h":1153,"o":53,"m":73,"c":"r"},{"h":1154,"o":52,"m":70,"c":"r"},{"h":1155,"o":53,"m":67,"c":"c"},{"h":1156,"o":49,"m":62,"c":"c"},{"h":1157,"o":39,"m":49,"c":"m"},{"h":1158,"o":13,"m":37,"c":"p"},{"h":1159,"o":1,"m":34,"c":"p"},{"h":1160,"o":1,"m":33,"c":"b"},
{"h":1161,"o":1,"m":33,"c":"b"},{"h":1162,"o":1,"m":33,"c":"b"},{"h":1163,"o":1,"m":34,"c":"t"},{"h":1164,"o":1,"m":35,"c":"t"},{"h":1165,"o":1,"m":35,"c":"t"},{"h":1166,"o":1,"m":33,"c":"e"},{"h":1167,"o":2,"m":26.6,"c":"e"},{"h":1168,"o":2,"m":23,"c":"g"},{"h":1170,"o":5,"m":25,"c":"g"},{"h":1171,"o":11,"m":38,"c":"g"},{"h":1172,"o":27,"m":54,"c":"g"},{"h":1173,"o":39,"m":65,"c":"l"},{"h":1174,"o":52,"m":70,"c":"y"},{"h":1175,"o":70,"m":77,"c":"y"},{"h":1176,"o":77,"m":83,"c":"o"},{"h":1177,"o":77,"m":85,"c":"o"},{"h":1178,"o":75,"m":84,"c":"a"},{"h":1179,"o":85,"m":81,"c":"r"},{"h":1180,"o":78,"m":81,"c":"c"},{"h":1181,"o":71,"m":76,"c":"m"},{"h":1182,"o":60,"m":63,"c":"p"},{"h":1183,"o":46,"m":51.7,"c":"p"},{"h":1184,"o":15,"m":47,"c":"p"},{"h":1185,"o":1,"m":47,"c":"v"},{"h":1186,"o":1,"m":47,"c":"b"},{"h":1187,"o":3,"m":47,"c":"b"},{"h":1188,"o":2,"m":47,"c":"b"},{"h":1189,"o":1,"m":46,"c":"t"},{"h":1190,"o":4,"m":44.5,"c":"t"},{"h":1191,"o":1,"m":43,"c":"e"},{"h":1192,"o":1,"m":36,"c":"e"},{"h":1193,"o":16,"m":32.5,"c":"g"},{"h":1195,"o":27,"m":33,"c":"g"},{"h":1196,"o":38,"m":45,"c":"g"},{"h":1197,"o":52,"m":63.6,"c":"l"},{"h":1198,"o":72,"m":80,"c":"y"},{"h":1199,"o":72,"m":82,"c":"y"},{"h":1200,"o":81,"m":92,"c":"o"},{"h":1201,"o":78,"m":91,"c":"o"},{"h":1202,"o":87,"m":91,"c":"a"},{"h":1203,"o":84,"m":90,"c":"r"},{"h":1204,"o":89,"m":88,"c":"r"},{"h":1205,"o":86,"m":85,"c":"c"},{"h":1206,"o":82,"m":80,"c":"m"},{"h":1207,"o":69,"m":76,"c":"m"},{"h":1208,"o":62,"m":68,"c":"p"},{"h":1209,"o":52,"m":59,"c":"p"},{"h":1210,"o":13,"m":58.5,"c":"v"},{"h":1211,"o":1,"m":58,"c":"b"},{"h":1212,"o":1,"m":58,"c":"b"},{"h":1213,"o":29,"m":57,"c":"b"},{"h":1214,"o":30,"m":57,"c":"t"},{"h":1215,"o":13,"m":46,"c":"t"},{"h":1216,"o":2,"m":38,"c":"t"},{"h":1217,"o":3,"m":35.5,"c":"e"},{"h":1218,"o":16,"m":35,"c":"e"},{"h":1219,"o":24,"m":35,"c":"g"},{"h":1220,"o":6,"m":48,"c":"g"},{"h":1221,"o":9,"m":49,"c":"l"},{"h":1222,"o":19,"m":65,"c":"y"},{"h":1223,"o":19,"m":83,"c":"y"},{"h":1224,"o":28,"m":97,"c":"o"},{"h":1225,"o":47,"m":99,"c":"o"},{"h":1226,"o":70,"m":89,"c":"a"},{"h":1227,"o":75,"m":79,"c":"r"},{"h":1228,"o":66,"m":69,"c":"r"},{"h":1229,"o":57,"m":52,"c":"c"},{"h":1230,"o":59,"m":38,"c":"m"},{"h":1231,"o":49,"m":41.5,"c":"m"},{"h":1232,"o":35,"m":33,"c":"p"},{"h":1233,"o":29,"m":33,"c":"p"},{"h":1234,"o":30,"m":34,"c":"v"},{"h":1235,"o":27,"m":33,"c":"b"},{"h":1237,"o":8,"m":32,"c":"b"},{"h":1238,"o":22,"m":31,"c":"b"},{"h":1239,"o":17,"m":28,"c":"t"},{"h":1240,"o":14,"m":26.6,"c":"t"},{"h":1241,"o":12,"m":26,"c":"t"},{"h":1242,"o":9,"m":18.5,"c":"e"},{"h":1243,"o":16,"m":18.5,"c":"g"},{"h":1244,"o":28,"m":18,"c":"g"},{"h":1245,"o":38,"m":30,"c":"g"},{"h":1246,"o":51,"m":48,"c":"g"},{"h":1247,"o":66,"m":71,"c":"l"},{"h":1248,"o":82,"m":89,"c":"y"},{"h":1249,"o":90,"m":93,"c":"y"},{"h":1250,"o":99,"m":101,"c":"o"},{"h":1251,"o":104,"m":101,"c":"r"},{"h":1252,"o":106,"m":102,"c":"r"},{"h":1253,"o":105,"m":96,"c":"c"},{"h":1254,"o":95,"m":84.5,"c":"c"},{"h":1255,"o":84,"m":76,"c":"m"},{"h":1256,"o":82,"m":74,"c":"m"},{"h":1257,"o":69,"m":68,"c":"p"},{"h":1258,"o":49,"m":64,"c":"p"},{"h":1259,"o":36,"m":62,"c":"v"},{"h":1260,"o":43,"m":61.6,"c":"b"},{"h":1261,"o":52,"m":60,"c":"b"},{"h":1262,"o":46,"m":58.5,"c":"b"},{"h":1263,"o":40,"m":55,"c":"t"},{"h":1265,"o":39,"m":44.5,"c":"t"},{"h":1266,"o":35,"m":44.5,"c":"e"},{"h":1267,"o":34,"m":40,"c":"e"},{"h":1268,"o":40,"m":42,"c":"g"},{"h":1269,"o":51,"m":52,"c":"g"},{"h":1270,"o":62,"m":67.5,"c":"g"},{"h":1271,"o":79,"m":87,"c":"l"},{"h":1272,"o":83,"m":102,"c":"y"},{"h":1273,"o":95,"m":108.2,"c":"y"},{"h":1274,"o":93,"m":106,"c":"o"},{"h":1275,"o":84,"m":90,"c":"a"},{"h":1276,"o":80,"m":87,"c":"r"},{"h":1277,"o":80,"m":82,"c":"r"},{"h":1278,"o":78,"m":80,"c":"c"},{"h":1280,"o":75,"m":71.7,"c":"m"},{"h":1281,"o":62,"m":71,"c":"m"},{"h":1282,"o":29,"m":63.6,"c":"p"},{"h":1283,"o":25,"m":61,"c":"p"},{"h":1284,"o":9,"m":58,"c":"p"},{"h":1285,"o":10,"m":56,"c":"b"},{"h":1286,"o":6,"m":54,"c":"b"},{"h":1287,"o":2,"m":51.7,"c":"t"},{"h":1288,"o":2,"m":49.6,"c":"t"},{"h":1290,"o":1,"m":45.7,"c":"t"},{"h":1291,"o":1,"m":37,"c":"e"},{"h":1292,"o":2,"m":28,"c":"g"},{"h":1293,"o":7,"m":25,"c":"g"},{"h":1294,"o":31,"m":24.5,"c":"g"},{"h":1295,"o":61,"m":32,"c":"g"},{"h":1296,"o":63,"m":86,"c":"l"},{"h":1297,"o":65,"m":95,"c":"y"},{"h":1298,"o":53,"m":86.7,"c":"o"},{"h":1299,"o":56,"m":77,"c":"o"},{"h":1300,"o":56,"m":68,"c":"o"},{"h":1301,"o":50,"m":64,"c":"r"},{"h":1302,"o":50,"m":62,"c":"r"},{"h":1303,"o":55,"m":52.5,"c":"c"},{"h":1304,"o":51,"m":50,"c":"c"},{"h":1305,"o":52,"m":45,"c":"m"},{"h":1306,"o":44,"m":37.7,"c":"p"},{"h":1307,"o":43,"m":37,"c":"p"},{"h":1308,"o":48,"m":38,"c":"v"},{"h":1309,"o":42,"m":37,"c":"b"},{"h":1311,"o":39,"m":34,"c":"b"},{"h":1312,"o":38,"m":33,"c":"b"},{"h":1313,"o":31,"m":32,"c":"t"},{"h":1314,"o":29,"m":30,"c":"t"},{"h":1315,"o":27,"m":28,"c":"e"},{"h":1316,"o":25,"m":26,"c":"t"},{"h":1317,"o":14,"m":26,"c":"g"},{"h":1318,"o":15,"m":23,"c":"g"},{"h":1319,"o":18,"m":23,"c":"g"},{"h":1320,"o":21,"m":31,"c":"g"},{"h":1321,"o":29,"m":41,"c":"l"},{"h":1322,"o":36,"m":46,"c":"l"},{"h":1323,"o":40,"m":46.6,"c":"y"},{"h":1324,"o":46,"m":50,"c":"y"},{"h":1325,"o":43,"m":52,"c":"o"},{"h":1326,"o":42,"m":52,"c":"a"},{"h":1327,"o":43,"m":51,"c":"r"},{"h":1328,"o":44,"m":49.6,"c":"c"},{"h":1329,"o":44,"m":46,"c":"c"},{"h":1330,"o":39,"m":38,"c":"m"},{"h":1331,"o":26,"m":36.8,"c":"p"},{"h":1332,"o":18,"m":36,"c":"p"},{"h":1333,"o":17,"m":36,"c":"v"},{"h":1335,"o":19,"m":36,"c":"b"},{"h":1336,"o":16,"m":33,"c":"b"},{"h":1337,"o":14,"m":31,"c":"t"},{"h":1338,"o":13,"m":29.5,"c":"t"},{"h":1339,"o":8,"m":25,"c":"t"},{"h":1340,"o":6,"m":23.6,"c":"e"},{"h":1341,"o":4,"m":20,"c":"e"},{"h":1342,"o":8,"m":19,"c":"g"},{"h":1343,"o":13,"m":19,"c":"g"},{"h":1344,"o":19,"m":24,"c":"g"},
{"h":1345,"o":23,"m":32,"c":"l"},{"h":1346,"o":29,"m":40,"c":"y"},{"h":1347,"o":36,"m":52.5,"c":"y"},{"h":1348,"o":39,"m":57,"c":"o"},{"h":1349,"o":41,"m":58.5,"c":"o"},{"h":1350,"o":47,"m":56,"c":"r"},{"h":1351,"o":46,"m":55,"c":"c"},{"h":1352,"o":45,"m":49.6,"c":"c"},{"h":1353,"o":44,"m":42,"c":"m"},{"h":1355,"o":38,"m":35.5,"c":"p"},{"h":1357,"o":34,"m":29,"c":"p"},{"h":1358,"o":22,"m":27.5,"c":"p"},{"h":1359,"o":21,"m":27,"c":"v"},{"h":1360,"o":24,"m":27,"c":"b"},{"h":1361,"o":24,"m":26.7,"c":"b"},{"h":1362,"o":25,"m":25,"c":"t"},{"h":1363,"o":14,"m":19,"c":"t"},{"h":1364,"o":10,"m":19,"c":"t"},{"h":1365,"o":5,"m":14.6,"c":"e"},{"h":1366,"o":8,"m":14.6,"c":"e"},{"h":1367,"o":13,"m":17,"c":"g"},{"h":1368,"o":21,"m":25,"c":"g"},{"h":1369,"o":26,"m":35.5,"c":"g"},{"h":1370,"o":34,"m":43.6,"c":"l"},{"h":1371,"o":40,"m":48,"c":"y"},{"h":1372,"o":46,"m":51.7,"c":"y"},{"h":1373,"o":50,"m":54,"c":"o"},{"h":1374,"o":55,"m":56,"c":"a"},{"h":1375,"o":61,"m":58,"c":"r"},{"h":1376,"o":62,"m":58,"c":"r"},{"h":1377,"o":57,"m":58,"c":"c"},{"h":1378,"o":56,"m":47,"c":"c"},{"h":1379,"o":49,"m":37.7,"c":"m"},{"h":1380,"o":42,"m":28.7,"c":"p"},{"h":1381,"o":34,"m":24.5,"c":"p"},{"h":1382,"o":24,"m":24,"c":"v"},{"h":1384,"o":24,"m":23.5,"c":"b"},{"h":1385,"o":29,"m":22.7,"c":"b"},{"h":1386,"o":30,"m":22,"c":"b"},{"h":1387,"o":27,"m":21,"c":"t"},{"h":1388,"o":31,"m":20,"c":"t"},{"h":1389,"o":28,"m":10.4,"c":"t"},{"h":1390,"o":23,"m":8.7,"c":"e"},{"h":1391,"o":17,"m":12,"c":"e"},{"h":1392,"o":19,"m":14,"c":"g"},{"h":1393,"o":23,"m":22.7,"c":"g"},{"h":1394,"o":35,"m":30,"c":"g"},{"h":1395,"o":48,"m":46,"c":"l"},{"h":1396,"o":65,"m":58,"c":"l"},{"h":1397,"o":72,"m":66,"c":"y"},{"h":1398,"o":74,"m":74,"c":"o"},{"h":1399,"o":76,"m":76,"c":"o"},{"h":1400,"o":74,"m":74,"c":"r"},{"h":1401,"o":77,"m":76,"c":"r"},{"h":1402,"o":76,"m":75,"c":"c"},{"h":1403,"o":75,"m":74,"c":"c"},{"h":1404,"o":72,"m":55.5,"c":"p"},{"h":1405,"o":38,"m":46.6,"c":"p"},{"h":1406,"o":3,"m":46,"c":"p"},{"h":1407,"o":8,"m":42,"c":"v"},{"h":1408,"o":21,"m":41,"c":"b"},{"h":1409,"o":31,"m":41,"c":"b"},{"h":1410,"o":26,"m":42,"c":"b"},{"h":1411,"o":41,"m":42,"c":"t"},{"h":1412,"o":30,"m":41,"c":"t"},{"h":1413,"o":29,"m":38,"c":"e"},{"h":1414,"o":26,"m":27.5,"c":"e"},{"h":1415,"o":24,"m":29,"c":"g"},{"h":1416,"o":34,"m":30,"c":"g"},{"h":1417,"o":30,"m":36,"c":"g"},{"h":1418,"o":51,"m":51,"c":"l"},{"h":1419,"o":74,"m":68,"c":"l"},{"h":1420,"o":96,"m":82,"c":"y"},{"h":1421,"o":100,"m":90,"c":"y"},{"h":1422,"o":102,"m":93,"c":"o"},{"h":1423,"o":103,"m":93,"c":"a"},{"h":1424,"o":99,"m":92.6,"c":"r"},{"h":1425,"o":99,"m":92,"c":"r"},{"h":1426,"o":100,"m":91,"c":"c"},{"h":1427,"o":97,"m":84,"c":"c"},{"h":1428,"o":90,"m":75,"c":"m"},{"h":1429,"o":57,"m":65,"c":"p"},{"h":1430,"o":45,"m":67,"c":"p"},{"h":1431,"o":29,"m":65,"c":"v"},{"h":1432,"o":7,"m":64,"c":"b"},{"h":1433,"o":5,"m":61,"c":"b"},{"h":1435,"o":31,"m":59,"c":"b"},{"h":1436,"o":43,"m":59,"c":"t"},{"h":1437,"o":42,"m":59,"c":"t"},{"h":1438,"o":30,"m":57,"c":"e"},{"h":1439,"o":49,"m":53,"c":"e"},{"h":1440,"o":42,"m":46,"c":"g"},{"h":1441,"o":44,"m":46,"c":"g"},{"h":1442,"o":51,"m":50,"c":"g"},{"h":1443,"o":58,"m":62,"c":"l"},{"h":1444,"o":63,"m":78.5,"c":"l"},{"h":1445,"o":71,"m":88,"c":"y"},{"h":1446,"o":72,"m":90,"c":"y"},{"h":1447,"o":79,"m":86.6,"c":"o"},{"h":1448,"o":70,"m":85,"c":"a"},{"h":1449,"o":70,"m":83,"c":"r"},{"h":1450,"o":68,"m":80,"c":"r"},{"h":1451,"o":63,"m":76,"c":"c"},{"h":1452,"o":60,"m":71,"c":"c"},{"h":1453,"o":54,"m":64,"c":"m"},{"h":1454,"o":40,"m":48,"c":"p"},{"h":1455,"o":29,"m":46,"c":"p"},{"h":1456,"o":35,"m":45,"c":"v"},{"h":1458,"o":20,"m":44.6,"c":"b"},{"h":1459,"o":20,"m":44.6,"c":"b"},{"h":1460,"o":32,"m":41,"c":"t"},{"h":1461,"o":35,"m":38.5,"c":"t"},{"h":1462,"o":28,"m":30,"c":"t"},{"h":1463,"o":24,"m":25,"c":"e"},{"h":1464,"o":13,"m":15,"c":"e"},{"h":1465,"o":16,"m":15,"c":"g"},{"h":1466,"o":31,"m":19,"c":"g"},{"h":1467,"o":47,"m":39,"c":"g"},{"h":1468,"o":53,"m":70,"c":"l"},{"h":1469,"o":52,"m":87.5,"c":"y"},{"h":1470,"o":74,"m":87.5,"c":"y"},{"h":1471,"o":82,"m":80.6,"c":"o"},{"h":1472,"o":69,"m":77,"c":"o"},{"h":1473,"o":61,"m":69.6,"c":"r"},{"h":1474,"o":59,"m":65,"c":"r"},{"h":1475,"o":59,"m":61,"c":"c"},{"h":1476,"o":65,"m":61,"c":"m"},{"h":1477,"o":61,"m":55,"c":"m"},{"h":1479,"o":54,"m":52,"c":"p"},{"h":1480,"o":47,"m":48.7,"c":"p"},{"h":1481,"o":30,"m":49.6,"c":"v"},{"h":1482,"o":28,"m":51,"c":"b"},{"h":1483,"o":18,"m":52,"c":"b"},{"h":1485,"o":36,"m":49,"c":"t"},{"h":1487,"o":42,"m":45,"c":"t"},{"h":1488,"o":23,"m":33,"c":"e"},{"h":1489,"o":25,"m":27,"c":"g"},{"h":1490,"o":27,"m":27,"c":"g"},{"h":1491,"o":23,"m":32,"c":"g"},{"h":1492,"o":33,"m":41,"c":"g"},{"h":1493,"o":45,"m":72,"c":"l"},{"h":1494,"o":55,"m":82,"c":"y"},{"h":1495,"o":56,"m":86.6,"c":"o"},{"h":1496,"o":41,"m":83,"c":"o"},{"h":1497,"o":36,"m":78,"c":"a"},{"h":1498,"o":32,"m":70,"c":"r"},{"h":1499,"o":39,"m":66.6,"c":"r"},{"h":1500,"o":33,"m":65,"c":"c"},{"h":1501,"o":41,"m":60,"c":"c"},{"h":1502,"o":31,"m":55.5,"c":"m"},{"h":1503,"o":23,"m":52.5,"c":"p"},{"h":1504,"o":23,"m":49,"c":"p"},{"h":1505,"o":21,"m":45,"c":"v"},{"h":1506,"o":23,"m":45,"c":"b"}
]},
"encoding":{"x":{"field":"h","type":"quantitative","scale":{"domain":[0,1536],"nice":false,"zero":false,"round":true},"axis":null}},
"layer":[
{"data":{"name":"notes"},"mark":{"type":"text","align":"left","baseline":"middle","font":"Liberation Sans","fontSize":13,"color":"#1818ff"},"encoding":{"y":{"field":"v","type":"quantitative","scale":{"domain":[0,133.4],"nice":false,"zero":false},"axis":null},"text":{"field":"t"}}},
{"data":{"name":"hours"},"transform":[{"filter":"datum.m>=datum.o"}],"mark":{"type":"rule","color":"#ff0000","strokeWidth":1,"xOffset":0.5},"encoding":{"y":{"field":"o","type":"quantitative","scale":{"domain":[0,133.4],"nice":false,"zero":false},"axis":null},"y2":{"field":"m"}}},
{"data":{"name":"hours"},"transform":[{"filter":"datum.m<datum.o"}],"mark":{"type":"rule","color":"#0000ff","strokeWidth":1,"xOffset":0.5},"encoding":{"y":{"field":"o","type":"quantitative","scale":{"domain":[0,133.4],"nice":false,"zero":false},"axis":null},"y2":{"field":"m"}}},
{"data":{"name":"hours"},"mark":{"type":"tick","orient":"vertical","size":8,"thickness":1.6,"color":"#5c0060","yOffset":-4,"opacity":1},"encoding":{"y":{"field":"m","type":"quantitative","scale":{"domain":[0,133.4],"nice":false,"zero":false},"axis":null}}},
{"data":{"name":"hours"},"mark":{"type":"point","shape":"circle","filled":true,"size":75,"stroke":"#5c0060","strokeWidth":1,"opacity":1},"encoding":{"y":{"field":"o","type":"quantitative","scale":{"domain":[0,133.4],"nice":false,"zero":false},"axis":null},"fill":{"field":"c","type":"nominal","legend":null,"scale":{"domain":["r","a","c","m","p","v","b","t","e","g","l","y","o"],"range":["#ff1020","#e84010","#e00048","#b00078","#6800a0","#3010d8","#1020f0","#107890","#18a068","#20e020","#70b010","#908010","#c06818"]}}}}
]}
